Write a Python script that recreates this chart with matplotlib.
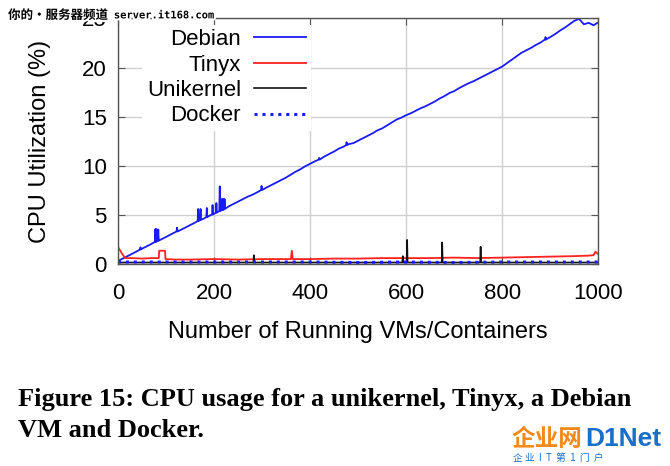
import matplotlib.pyplot as plt
import matplotlib.patheffects as pe
import numpy as np

plt.rcParams['font.family'] = ['Liberation Sans', 'DejaVu Sans']

# Debian VM: base curve every 10 VMs
debian_x = list(range(0, 1001, 10))
debian_y = [0.3, 0.55, 0.8, 1.05, 1.3, 1.55, 1.8, 2.05, 2.3, 2.5,
            2.75, 3.0, 3.25, 3.45, 3.7, 3.95, 4.2, 4.45, 4.65, 4.9,
            5.1, 5.35, 5.55, 5.85, 6.1, 6.35, 6.6, 6.85, 7.05, 7.3,
            7.55, 7.8, 8.05, 8.3, 8.55, 8.8, 9.1, 9.4, 9.65, 9.95,
            10.2, 10.45, 10.65, 10.95, 11.2, 11.45, 11.75, 11.95, 12.2, 12.3,
            12.55, 12.8, 13.05, 13.3, 13.6, 13.8, 14.1, 14.4, 14.7, 14.9,
            15.15, 15.35, 15.6, 15.85, 16.05, 16.3, 16.55, 16.85, 17.1, 17.4,
            17.6, 17.9, 18.15, 18.4, 18.6, 18.85, 19.1, 19.35, 19.6, 19.85,
            20.1, 20.45, 20.8, 21.15, 21.5, 21.75, 22.0, 22.3, 22.55, 22.85,
            23.1, 23.4, 23.75, 24.05, 24.4, 24.75, 24.95, 24.4, 24.55, 24.3,
            24.6]
# Debian spikes (VM count, peak %)
debian_spike_x = [47, 78, 80, 82, 84, 123, 167, 172, 185, 197, 205, 212,
                  216, 218, 220, 222, 299, 419, 476, 890]
debian_spike_y = [1.7, 3.55, 3.55, 3.5, 3.5, 3.7, 5.6, 5.6, 5.7, 6.0, 6.2, 7.9,
                  6.6, 6.6, 6.6, 6.6, 7.95, 10.8, 12.4, 23.1]

tinyx_x = [0, 3, 8, 15, 30, 50, 70, 85, 86, 98, 99, 120, 150, 200, 250, 300,
           340, 360, 362, 364, 400, 450, 500, 550, 600, 650, 700, 750, 800,
           850, 900, 950, 980, 990, 994, 1000]
tinyx_y = [1.75, 1.5, 1.1, 0.6, 0.6, 0.55, 0.6, 0.6, 1.35, 1.35, 0.5, 0.45,
           0.45, 0.5, 0.45, 0.5, 0.5, 0.5, 1.35, 0.5, 0.5, 0.55, 0.55, 0.6,
           0.6, 0.6, 0.65, 0.6, 0.65, 0.7, 0.75, 0.8, 0.85, 0.9, 1.25, 1.0]

unikernel_x = [0, 100, 282, 283, 284, 400, 592, 593, 594, 601, 602, 603,
               674, 675, 676, 754, 755, 756, 900, 1000]
unikernel_y = [0.15, 0.15, 0.15, 0.9, 0.15, 0.15, 0.15, 0.8, 0.15, 0.15,
               2.45, 0.15, 0.15, 2.2, 0.15, 0.15, 1.75, 0.15, 0.15, 0.15]

docker_x = [0, 100, 200, 300, 400, 500, 600, 700, 800, 900, 1000]
docker_y = [0.2, 0.2, 0.2, 0.2, 0.2, 0.15, 0.2, 0.15, 0.2, 0.2, 0.2]

x_ticks = [0, 200, 400, 600, 800, 1000]
y_ticks = [0, 5, 10, 15, 20, 25]

# merge the spikes into the Debian curve
dx = np.array(debian_x + debian_spike_x + [s - 1 for s in debian_spike_x] + [s + 1 for s in debian_spike_x], dtype=float)
base = np.interp(debian_spike_x, debian_x, debian_y)
dy = np.concatenate([debian_y, debian_spike_y, base, base])
order = np.argsort(dx, kind='stable')
dx, dy = dx[order], dy[order]

fig = plt.figure(figsize=(6.7, 4.66), dpi=100)
ax = fig.add_axes([0.176, 0.4335, 0.717, 0.527])

ax.plot(dx, dy, color='#1a1aff', lw=1.3, label='Debian')
ax.plot(tinyx_x, tinyx_y, color='#ff2020', lw=1.3, label='Tinyx')
ax.plot(unikernel_x, unikernel_y, color='#111111', lw=1.2, label='Unikernel')
ax.plot(docker_x, docker_y, color='#1a1aff', lw=2.2, ls=(0, (1, 1.6)), label='Docker')

ax.set_xlim(0, 1000)
ax.set_ylim(0, 25)
ax.set_xticks(x_ticks)
ax.set_yticks(y_ticks)
ax.tick_params(direction='in', length=5, width=0.8, color='#555555',
               top=True, right=True, labelsize=16)
ax.tick_params(axis='x', pad=14)
ax.tick_params(axis='y', pad=8)
ax.grid(True, color='#d0d0d0', lw=1)
ax.set_axisbelow(True)
for sp in ax.spines.values():
    sp.set_color('#555555')
    sp.set_linewidth(1)

ax.set_xlabel('Number of Running VMs/Containers', fontsize=17, labelpad=12)
ax.set_ylabel('CPU Utilization (%)', fontsize=17, labelpad=22)

leg = ax.legend(loc='upper left', bbox_to_anchor=(0.038, 1), markerfirst=False,
                fontsize=16, frameon=True, fancybox=False, framealpha=1,
                handlelength=2.34, handletextpad=0.6, labelspacing=0.2,
                borderaxespad=0.28, borderpad=0.2)
leg.get_frame().set_edgecolor('none')

cap_font = dict(family=['Liberation Serif'], fontweight='bold', fontsize=19,
                va='baseline', ha='left')
fig.text(0.027, 0.129, 'Figure 15: CPU usage for a unikernel, Tinyx, a Debian', **cap_font)
fig.text(0.027, 0.062, 'VM and Docker.', **cap_font)

# watermarks
halo = [pe.withStroke(linewidth=3, foreground='white')]
fig.text(0.012, 0.967, '你的•服务器频道', family=['Noto Sans CJK SC', 'DejaVu Sans'],
         fontsize=9, fontweight='bold', va='center', ha='left', path_effects=halo)
fig.text(0.17, 0.967, 'server.it168.com', family=['DejaVu Sans Mono'],
         fontsize=7.5, fontweight='bold', va='center', ha='left', path_effects=halo)
fig.text(0.763, 0.058, '企业网', family=['Noto Sans CJK SC'], fontsize=17,
         fontweight='bold', color='#f08a1c', va='center', ha='left')
fig.text(0.873, 0.058, 'D1Net', family=['Liberation Sans'], fontsize=19,
         fontweight='bold', color='#1a6fc9', va='center', ha='left')
fig.text(0.765, 0.018, '企 业  I  T  第  1  门  户', family=['Noto Sans CJK SC'],
         fontsize=7, color='#1a6fc9', va='center', ha='left')

fig.savefig('out.png', dpi=100)
